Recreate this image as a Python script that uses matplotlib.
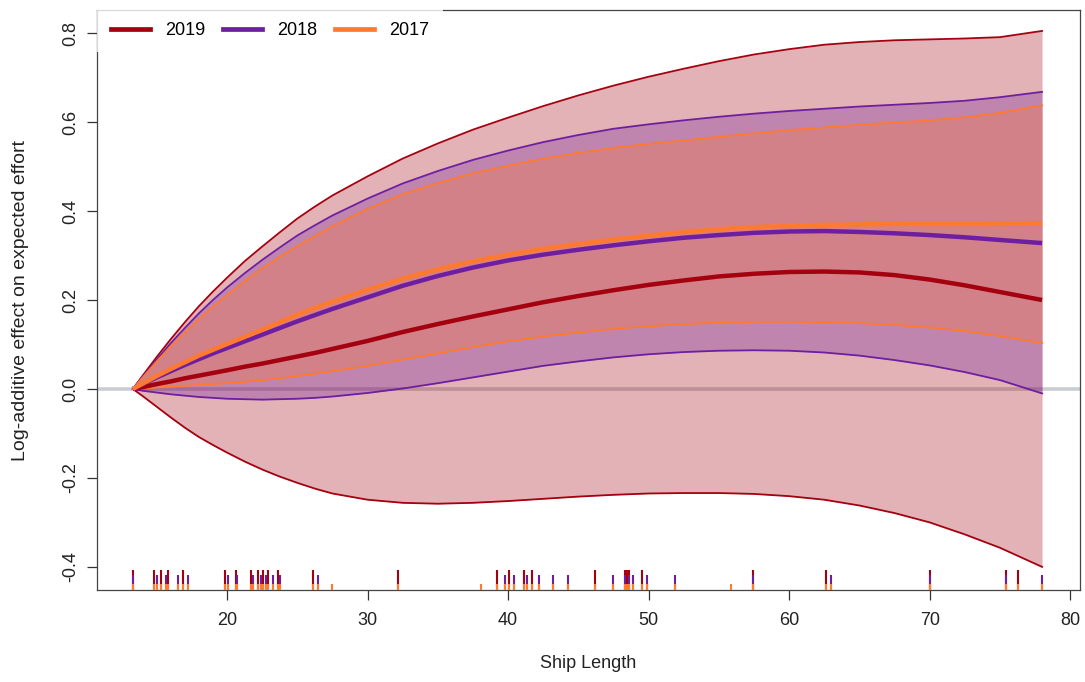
import numpy as np
import matplotlib
matplotlib.use("Agg")
import matplotlib.pyplot as plt
from matplotlib.lines import Line2D
import matplotlib.transforms as mtransforms

plt.rcParams['font.family'] = ['Liberation Sans', 'DejaVu Sans']

# Ship length grid for the smooth terms
ship_length = [13.3, 14, 15, 16, 17, 18, 19, 20, 21.25, 22.5, 23.75, 25, 26.25, 27.5,
               30, 32.5, 35, 37.5, 40, 42.5, 45, 47.5, 50, 52.5, 55, 57.5, 60, 62.5,
               65, 67.5, 70, 72.5, 75, 78]

# 2019: fitted effect and confidence bounds
fit_2019 = [0.0, 0.004, 0.011, 0.017, 0.024, 0.030, 0.036, 0.042, 0.050, 0.057, 0.065,
            0.073, 0.081, 0.090, 0.108, 0.128, 0.146, 0.163, 0.179, 0.195, 0.209, 0.222,
            0.234, 0.244, 0.253, 0.259, 0.263, 0.264, 0.262, 0.256, 0.246, 0.233, 0.218,
            0.200]
upper_2019 = [0.0, 0.030, 0.072, 0.112, 0.150, 0.186, 0.219, 0.250, 0.287, 0.320, 0.352,
              0.383, 0.410, 0.435, 0.478, 0.518, 0.552, 0.583, 0.610, 0.636, 0.660, 0.682,
              0.702, 0.720, 0.737, 0.752, 0.764, 0.774, 0.780, 0.784, 0.786, 0.788, 0.791,
              0.805]
lower_2019 = [0.0, -0.016, -0.040, -0.064, -0.087, -0.108, -0.126, -0.143, -0.163, -0.181,
              -0.197, -0.211, -0.224, -0.235, -0.249, -0.256, -0.258, -0.256, -0.252,
              -0.247, -0.242, -0.238, -0.235, -0.234, -0.234, -0.236, -0.241, -0.249,
              -0.262, -0.279, -0.300, -0.327, -0.357, -0.400]

# 2018
fit_2018 = [0.0, 0.011, 0.026, 0.040, 0.054, 0.067, 0.080, 0.092, 0.107, 0.122, 0.137,
            0.152, 0.166, 0.180, 0.206, 0.232, 0.254, 0.273, 0.289, 0.302, 0.313, 0.323,
            0.332, 0.340, 0.346, 0.351, 0.354, 0.355, 0.353, 0.350, 0.346, 0.341, 0.335,
            0.328]
upper_2018 = [0.0, 0.028, 0.066, 0.103, 0.137, 0.170, 0.200, 0.228, 0.260, 0.290, 0.318,
              0.345, 0.368, 0.390, 0.428, 0.462, 0.490, 0.515, 0.536, 0.555, 0.571, 0.585,
              0.595, 0.604, 0.612, 0.619, 0.625, 0.630, 0.635, 0.639, 0.643, 0.648, 0.656,
              0.668]
lower_2018 = [0.0, -0.004, -0.008, -0.012, -0.015, -0.018, -0.020, -0.022, -0.023, -0.024,
              -0.023, -0.022, -0.020, -0.017, -0.009, 0.001, 0.013, 0.026, 0.039, 0.052,
              0.062, 0.071, 0.078, 0.083, 0.086, 0.087, 0.086, 0.082, 0.075, 0.065, 0.053,
              0.038, 0.020, -0.010]

# 2017
fit_2017 = [0.0, 0.012, 0.029, 0.045, 0.060, 0.075, 0.088, 0.101, 0.117, 0.133, 0.150,
            0.167, 0.182, 0.196, 0.223, 0.248, 0.269, 0.287, 0.302, 0.315, 0.326, 0.336,
            0.345, 0.353, 0.359, 0.364, 0.367, 0.369, 0.370, 0.371, 0.371, 0.371, 0.371,
            0.372]
upper_2017 = [0.0, 0.026, 0.062, 0.096, 0.127, 0.157, 0.185, 0.211, 0.242, 0.271, 0.297,
              0.321, 0.344, 0.366, 0.405, 0.438, 0.463, 0.485, 0.502, 0.518, 0.531, 0.542,
              0.551, 0.559, 0.567, 0.575, 0.582, 0.588, 0.594, 0.599, 0.604, 0.611, 0.621,
              0.638]
lower_2017 = [0.0, 0.001, 0.003, 0.005, 0.007, 0.009, 0.011, 0.013, 0.016, 0.020, 0.024,
              0.029, 0.034, 0.040, 0.052, 0.066, 0.080, 0.094, 0.107, 0.118, 0.127, 0.135,
              0.141, 0.146, 0.149, 0.151, 0.151, 0.150, 0.148, 0.144, 0.138, 0.130, 0.119,
              0.103]

# Observed ship lengths per year (rug)
rug_2019 = [13.33, 14.8, 15.3, 15.8, 16.9, 19.86, 20.64, 21.7, 22.2, 22.56, 22.9, 23.6,
            26.1, 32.2, 39.2, 40.1, 41.1, 41.7, 46.2, 48.3, 48.45, 48.6, 49.5, 57.4,
            62.6, 70.0, 75.4, 76.3]
rug_2018 = [13.33, 15.0, 15.66, 16.5, 17.2, 20.07, 20.7, 21.85, 22.4, 22.8, 23.3, 23.8,
            26.5, 39.8, 40.4, 41.35, 42.2, 43.2, 44.3, 47.5, 48.3, 48.6, 48.9, 49.9,
            51.9, 57.4, 63.0, 70.0, 75.4, 78.0]
rug_2017 = [13.33, 14.8, 15.0, 15.3, 15.66, 15.8, 16.5, 16.9, 17.2, 19.86, 20.07, 20.64, 20.7,
            21.7, 21.85, 22.2, 22.4, 22.56, 22.8, 22.9, 23.3, 23.6, 23.8, 26.1, 26.5, 27.5,
            32.2, 38.1, 39.2, 39.8, 40.1, 40.4, 41.1, 41.35, 41.7, 42.2, 43.2, 44.3, 46.2,
            47.5, 48.3, 48.45, 48.6, 48.9, 49.5, 49.9, 51.9, 55.9, 57.4, 62.6, 63.0, 70.0,
            75.4, 76.3, 78.0]

years = ["2019", "2018", "2017"]
colors = {"2019": "#A5000F", "2018": "#6E1EA0", "2017": "#FF7A2E"}
x_ticks = [20, 30, 40, 50, 60, 70, 80]
y_ticks = [-0.4, -0.2, 0.0, 0.2, 0.4, 0.6, 0.8]

series = {
    "2019": (fit_2019, lower_2019, upper_2019, rug_2019, 0.034),
    "2018": (fit_2018, lower_2018, upper_2018, rug_2018, 0.026),
    "2017": (fit_2017, lower_2017, upper_2017, rug_2017, 0.011),
}

fig = plt.figure(figsize=(10.85, 6.82), dpi=100)
ax = fig.add_axes([0.0894, 0.1349, 0.9060, 0.8504])

x = np.array(ship_length)
ax.axhline(0, color="#C9CDD2", lw=2.6, zorder=1)

# confidence bands
for yr in years:
    fit, lo, hi, _, _ = series[yr]
    ax.fill_between(x, lo, hi, color=colors[yr], alpha=0.3, lw=0, zorder=2)

# bounds and fitted curves
for yr in years:
    fit, lo, hi, _, _ = series[yr]
    ax.plot(x, hi, color=colors[yr], lw=1.3, zorder=3)
    ax.plot(x, lo, color=colors[yr], lw=1.3, zorder=3)
for yr in years:
    fit, lo, hi, _, _ = series[yr]
    ax.plot(x, fit, color=colors[yr], lw=3.2, zorder=4, solid_capstyle="butt")

# rug of observed lengths
trans = mtransforms.blended_transform_factory(ax.transData, ax.transAxes)
for yr in years:
    _, _, _, rug, h = series[yr]
    ax.vlines(rug, 0, h, color=colors[yr], lw=1.5, transform=trans, zorder=5)

ax.set_xlim(10.75, 80.7)
ax.set_ylim(-0.452, 0.852)
ax.set_xticks(x_ticks)
ax.set_xticklabels([str(t) for t in x_ticks])
ax.set_yticks(y_ticks)
ax.set_yticklabels([f"{t:.1f}" for t in y_ticks], rotation=90, va="center")
ax.tick_params(axis="both", direction="out", length=7, width=0.9, color="#333333",
               labelsize=13, labelcolor="#222222")
ax.tick_params(axis="x", pad=9)
ax.tick_params(axis="y", pad=6)
for s in ax.spines.values():
    s.set_color("#444444")
    s.set_linewidth(0.9)

ax.set_xlabel("Ship Length", fontsize=13, color="#222222", va="top")
ax.xaxis.set_label_coords(0.5, -0.112)
ax.set_ylabel("Log-additive effect on expected effort", fontsize=14, color="#222222")
ax.yaxis.set_label_coords(-0.069, 0.5)

handles = [Line2D([0], [0], color=colors[yr], lw=3.4) for yr in years]
leg = ax.legend(handles, years, loc="upper left", bbox_to_anchor=(0.0, 1.003), ncol=3,
                frameon=True, fontsize=13, handlelength=2.2, handletextpad=0.83,
                columnspacing=0.95, borderpad=0.75, borderaxespad=0.0, fancybox=False)
leg.get_frame().set_facecolor("white")
leg.get_frame().set_edgecolor("none")
leg.set_zorder(10)

fig.savefig("out.png", dpi=100)
